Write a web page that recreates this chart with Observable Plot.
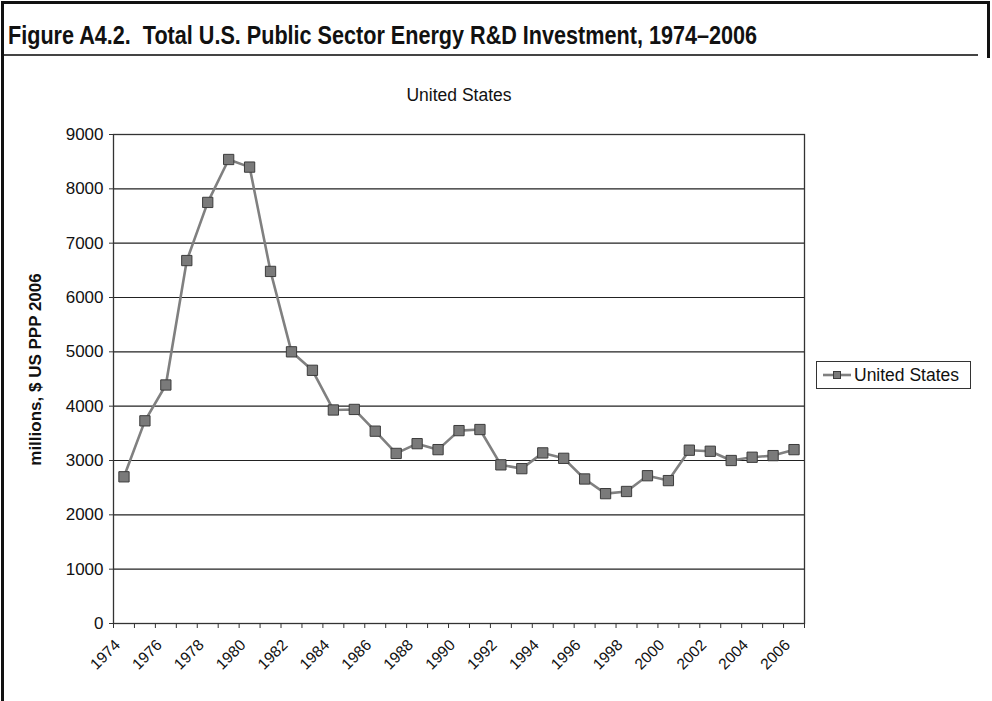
<!DOCTYPE html>
<html><head><meta charset="utf-8">
<script src="https://cdn.jsdelivr.net/npm/d3@7"></script>
<script src="https://cdn.jsdelivr.net/npm/@observablehq/plot@0.6"></script>
<style>
body{margin:0;background:#fff;}
#fig{position:relative;width:992px;height:701px;overflow:hidden;font-family:"Liberation Sans",Arial,sans-serif;background:#fff;}
#chart{position:absolute;left:0;top:0;}
.bl{position:absolute;background:#111;}
#figtitle{position:absolute;left:8px;top:18px;white-space:pre;font-family:"Liberation Sans",Arial,sans-serif;font-weight:bold;font-size:26px;line-height:34px;color:#111;transform-origin:0 0;}
#legend{position:absolute;left:816px;top:361px;width:153px;height:26px;border:1px solid #333;background:#fff;}
#legend svg{position:absolute;left:5px;top:0;}
#legend span{position:absolute;left:37px;top:3px;font-size:17.5px;color:#111;white-space:nowrap;}
</style></head><body>
<div id="fig">
  <div id="chart"></div>
  <div id="figtitle"></div>
  <div class="bl" style="left:1px;top:1px;width:3px;height:700px"></div>
  <div class="bl" style="left:1px;top:1px;width:989px;height:3px"></div>
  <div class="bl" style="left:987px;top:1px;width:3px;height:57px"></div>
  <div class="bl" style="left:4px;top:54px;width:974px;height:1.5px;background:#444"></div>
  <div id="legend"></div>
</div>
<script>
const figTitle = "Figure A4.2.  Total U.S. Public Sector Energy R&D Investment, 1974–2006";
const chartTitle = "United States";
const seriesName = "United States";
const yLabel = "millions, $ US PPP 2006";
const years = [1974,1975,1976,1977,1978,1979,1980,1981,1982,1983,1984,1985,1986,1987,1988,1989,1990,1991,1992,1993,1994,1995,1996,1997,1998,1999,2000,2001,2002,2003,2004,2005,2006];
const values = [2700,3730,4390,6680,7750,8540,8400,6480,5000,4660,3930,3940,3540,3130,3310,3200,3550,3570,2920,2850,3140,3040,2660,2390,2430,2720,2630,3190,3170,3000,3060,3090,3200];
const yTicks = [0,1000,2000,3000,4000,5000,6000,7000,8000,9000];

const data = years.map((y, i) => ({year: y, value: values[i]}));
const bounds = years.map(y => y - 0.5).concat([years[years.length - 1] + 0.5]);
const labelYears = years.filter((y, i) => i % 2 === 0);

const plot = Plot.plot({
  width: 992, height: 701,
  marginLeft: 113, marginRight: 188, marginTop: 134, marginBottom: 78,
  style: {fontFamily: "Liberation Sans, Arial, sans-serif", background: "transparent", color: "#111"},
  x: {domain: [bounds[0], bounds[bounds.length - 1]]},
  y: {domain: [0, 9000]},
  marks: [
    Plot.ruleY(yTicks, {stroke: "#222", strokeWidth: 1.2}),
    Plot.frame({stroke: "#333", strokeWidth: 1.3}),
    Plot.axisY({ticks: yTicks, tickFormat: d => String(d), tickSize: 4, tickPadding: 6, fontSize: 17, label: null, stroke: "#333", fill: "#111"}),
    Plot.axisX({ticks: bounds, tickSize: 5, tickFormat: () => "", label: null, stroke: "#333"}),
    Plot.text(labelYears, {x: d => d, text: d => String(d), frameAnchor: "bottom", dx: -6.5, dy: 19, rotate: -45, textAnchor: "end", lineAnchor: "middle", fontSize: 15.5, fill: "#111"}),
    Plot.text([yLabel], {frameAnchor: "left", dx: -78, dy: -9.5, rotate: -90, textAnchor: "middle", lineAnchor: "middle", fontWeight: "bold", fontSize: 17, fill: "#111"}),
    Plot.text([chartTitle], {frameAnchor: "top", dy: -39, textAnchor: "middle", lineAnchor: "middle", fontSize: 17.5, fill: "#111"}),
    Plot.line(data, {x: "year", y: "value", stroke: "#808080", strokeWidth: 2.6}),
    Plot.dot(data, {x: "year", y: "value", symbol: "square", r: 5.8, fill: "#7a7a7a", stroke: "#3c3c3c", strokeWidth: 1})
  ]
});
document.getElementById("chart").appendChild(plot);

// figure title: condensed horizontally to the reference width
const ft = document.getElementById("figtitle");
ft.textContent = figTitle;
const w0 = ft.getBoundingClientRect().width;
if (w0 > 0) ft.style.transform = "scaleX(" + (749 / w0).toFixed(4) + ")";

// legend
const lg = d3.select("#legend");
const lsv = lg.append("svg").attr("width", 32).attr("height", 26);
lsv.append("line").attr("x1", 1).attr("x2", 29).attr("y1", 13).attr("y2", 13).attr("stroke", "#808080").attr("stroke-width", 2.6);
lsv.append("rect").attr("x", 11.5).attr("y", 9.5).attr("width", 7).attr("height", 7).attr("fill", "#7a7a7a").attr("stroke", "#3c3c3c").attr("stroke-width", 1);
lg.append("span").text(seriesName);
</script>
</body></html>
